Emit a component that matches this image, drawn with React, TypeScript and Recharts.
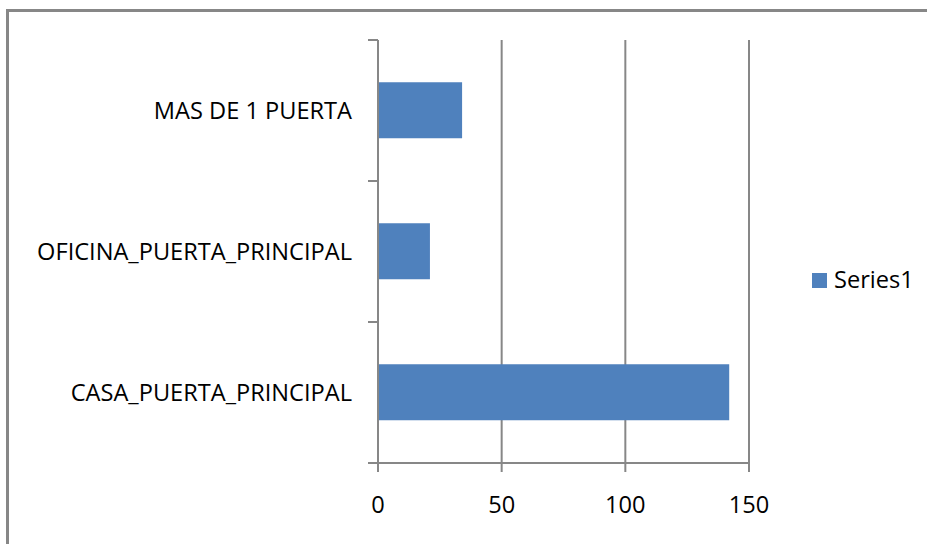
import { Bar, BarChart, CartesianGrid, Legend, XAxis, YAxis } from "recharts";

const categories = ["MAS DE 1 PUERTA", "OFICINA_PUERTA_PRINCIPAL", "CASA_PUERTA_PRINCIPAL"];
const series1 = [34, 21, 142];
const xTicks = [0, 50, 100, 150];

const data = categories.map((name, i) => ({ name, Series1: series1[i] }));

const AXIS = "#878787";
const BAR = "#4F81BD";
const FONT = "'Open Sans', sans-serif";
const FONT_SIZE = 23.6;

const Y_TICK_SIZE = 10;
const Y_TICK_MARGIN = 16;

// category labels sit in the middle of each band, tick marks go on the band edges
function CategoryTick(props: any) {
  const { x, y, payload } = props;
  const axisX = x + Y_TICK_MARGIN + Y_TICK_SIZE;
  const half = payload.offset ?? 0;
  return (
    <g>
      <line x1={axisX - Y_TICK_SIZE} x2={axisX} y1={y - half} y2={y - half} stroke={AXIS} strokeWidth={2} />
      <line x1={axisX - Y_TICK_SIZE} x2={axisX} y1={y + half} y2={y + half} stroke={AXIS} strokeWidth={2} />
      <text x={x} y={y} dy="0.355em" textAnchor="end" fill="#000" fontFamily={FONT} fontSize={FONT_SIZE}>
        {payload.value}
      </text>
    </g>
  );
}

function LegendBox() {
  return (
    <div style={{ display: "flex", alignItems: "flex-start", fontFamily: FONT, fontSize: FONT_SIZE, lineHeight: "24px", color: "#000" }}>
      <span style={{ display: "inline-block", width: 15, height: 15, background: BAR, marginTop: 6, marginRight: 7 }} />
      <span>Series1</span>
    </div>
  );
}

export default function App() {
  return (
    <div style={{ position: "fixed", left: 0, top: 0, width: 927, height: 544, overflow: "hidden", background: "#fff" }}>
      <div
        style={{
          position: "absolute",
          left: 6,
          top: 9,
          width: 1000,
          height: 600,
          border: `3px solid ${AXIS}`,
        }}
      />
      <BarChart
        width={927}
        height={544}
        data={data}
        layout="vertical"
        barCategoryGap="30%"
        margin={{ top: 40, right: 178, bottom: 21, left: 0 }}
        style={{ position: "absolute", left: 0, top: 0 }}
      >
        <CartesianGrid horizontal={false} stroke={AXIS} strokeWidth={2} />
        <XAxis
          type="number"
          domain={[0, 150]}
          ticks={xTicks}
          height={60}
          axisLine={{ stroke: AXIS, strokeWidth: 2 }}
          tickLine={{ stroke: AXIS, strokeWidth: 2 }}
          tickSize={9}
          tickMargin={24}
          tick={{ fill: "#000", fontFamily: FONT, fontSize: FONT_SIZE }}
        />
        <YAxis
          type="category"
          dataKey="name"
          width={378}
          axisLine={{ stroke: AXIS, strokeWidth: 2 }}
          tickLine={false}
          tickSize={Y_TICK_SIZE}
          tickMargin={Y_TICK_MARGIN}
          tick={<CategoryTick />}
          interval={0}
        />
        <Legend
          layout="vertical"
          align="center"
          verticalAlign="middle"
          content={() => <LegendBox />}
          wrapperStyle={{ left: 812, top: 267, width: "auto" }}
        />
        <Bar dataKey="Series1" fill={BAR} isAnimationActive={false} />
      </BarChart>
    </div>
  );
}
